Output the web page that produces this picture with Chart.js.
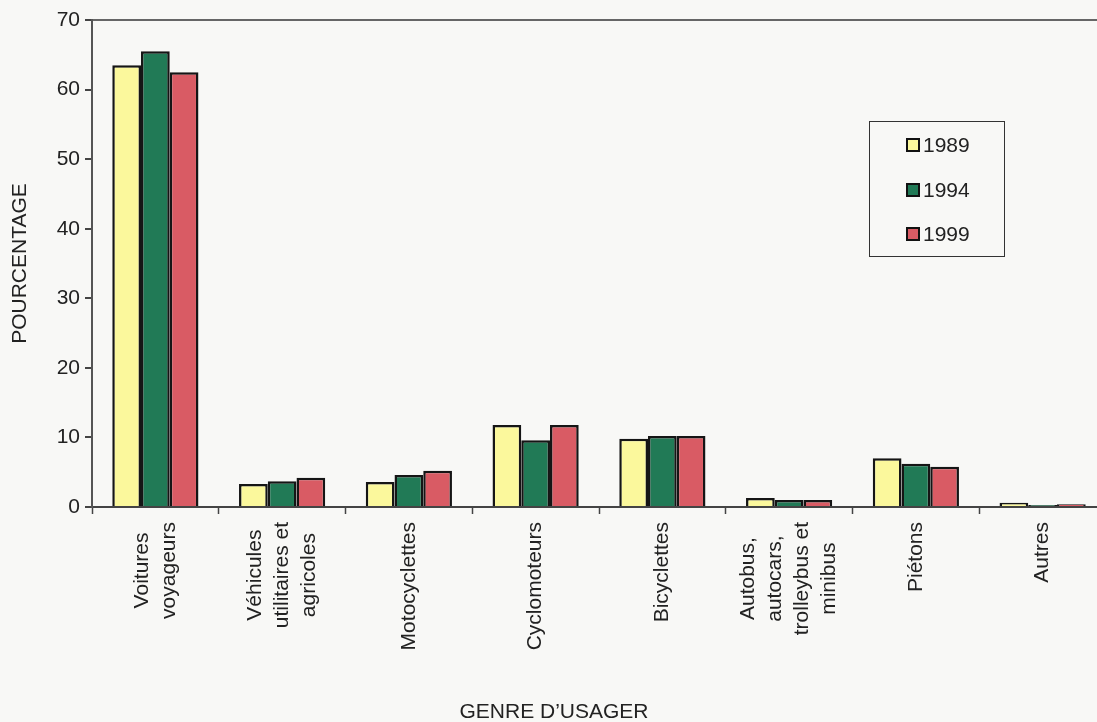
<!DOCTYPE html>
<html>
<head>
<meta charset="utf-8">
<script src="https://cdn.jsdelivr.net/npm/chart.js@4"></script>
<style>
  html, body { margin: 0; padding: 0; background: #f8f8f6; overflow: hidden; }
  #wrap { position: relative; width: 1110px; height: 722px; }
  #legend { position: absolute; left: 869px; top: 121px; width: 136px; height: 136px;
    border: 1px solid #333; box-sizing: border-box; font-family: "Liberation Sans", Arial, sans-serif; font-size: 21px; color: #222; }
  .item { position: absolute; left: 36px; height: 22px; line-height: 22px; }
  .sw { display: inline-block; width: 10px; height: 10px; border: 2px solid #111; vertical-align: 0px; margin-right: 3px; }
  #xtitle { position: absolute; left: 434px; width: 240px; top: 699px; text-align: center;
    font-family: "Liberation Sans", Arial, sans-serif; font-size: 21px; color: #222; }
</style>
</head>
<body>
<div id="wrap">
  <canvas id="chart" width="1110" height="722"></canvas>
  <div id="legend"></div>
  <div id="xtitle">GENRE D’USAGER</div>
</div>
<script>
const categories = [
  ["Voitures", "voyageurs"],
  ["Véhicules", "utilitaires et", "agricoles"],
  ["Motocyclettes"],
  ["Cyclomoteurs"],
  ["Bicyclettes"],
  ["Autobus,", "autocars,", "trolleybus et", "minibus"],
  ["Piétons"],
  ["Autres"]
];
const years = ["1989", "1994", "1999"];
const values1989 = [63.5, 3.3, 3.6, 11.8, 9.8, 1.3, 7.0, 0.6];
const values1994 = [65.5, 3.7, 4.6, 9.6, 10.2, 1.0, 6.2, 0.3];
const values1999 = [62.5, 4.2, 5.2, 11.8, 10.2, 1.0, 5.8, 0.4];
const colors = ["#fbf89c", "#217a56", "#d95b64"];

const font = "'Liberation Sans', Arial, sans-serif";
const lineH = 27;

// center the rotated multi-line labels like the original
const centerLabels = {
  id: "centerLabels",
  beforeDraw(chart) {
    const sc = chart.scales.x;
    const items = sc.getLabelItems();
    const ctx = chart.ctx;
    items.forEach((it) => {
      if (it._done) return;
      const lines = Array.isArray(it.label) ? it.label : [it.label];
      ctx.save();
      ctx.font = it.font.string;
      let w = 0;
      lines.forEach((l) => { w = Math.max(w, ctx.measureText(l).width); });
      ctx.restore();
      it.options.translation[0] -= (lines.length - 1) * lineH / 2;
      it.options.translation[1] += w / 2;
      it.options.textAlign = "center";
      it._done = true;
    });
  }
};

const chart = new Chart(document.getElementById("chart"), {
  type: "bar",
  data: {
    labels: categories,
    datasets: [
      { label: years[0], data: values1989, backgroundColor: colors[0] },
      { label: years[1], data: values1994, backgroundColor: colors[1] },
      { label: years[2], data: values1999, backgroundColor: colors[2] }
    ]
  },
  options: {
    responsive: false,
    animation: false,
    layout: { padding: { top: 20, right: 4, left: 0, bottom: 0 } },
    datasets: {
      bar: { borderColor: "#151515", borderWidth: 2.5, categoryPercentage: 0.68, barPercentage: 1 }
    },
    plugins: { legend: { display: false }, tooltip: { enabled: false } },
    scales: {
      x: {
        afterFit: (s) => { s.height = 215; },
        border: { color: "#444", width: 2 },
        grid: { drawOnChartArea: false, tickLength: 7, tickColor: "#444", tickWidth: 1.5 },
        ticks: {
          minRotation: 90, maxRotation: 90, autoSkip: false, padding: 8,
          color: "#222", font: { family: font, size: 21, lineHeight: lineH / 21 }
        }
      },
      y: {
        min: 0, max: 70,
        afterFit: (s) => { s.width = 92; },
        border: { color: "#555", width: 2 },
        grid: {
          color: (c) => (c.tick && c.tick.value === 70 ? "#666" : "transparent"),
          lineWidth: 2, tickLength: 7, tickColor: "#444"
        },
        ticks: { stepSize: 10, padding: 5, color: "#222", font: { family: font, size: 21 } },
        title: { display: true, text: "POURCENTAGE", color: "#222", padding: { top: 8 },
          font: { family: font, size: 21 } }
      }
    }
  },
  plugins: [centerLabels]
});

// legend box built from the datasets
const legend = document.getElementById("legend");
const tops = [12, 57, 101];
chart.data.datasets.forEach((ds, i) => {
  const d = document.createElement("div");
  d.className = "item";
  d.style.top = tops[i] + "px";
  d.innerHTML = '<span class="sw" style="background:' + ds.backgroundColor + '"></span>' + ds.label;
  legend.appendChild(d);
});
</script>
</body>
</html>
